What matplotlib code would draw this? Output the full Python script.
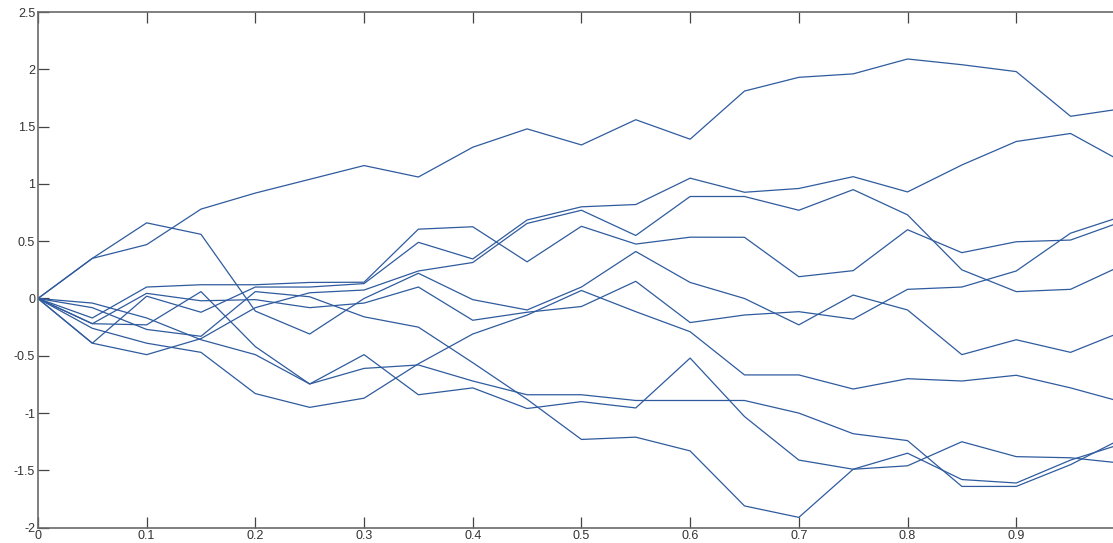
import numpy as np
import matplotlib
matplotlib.use("Agg")
import matplotlib.pyplot as plt

#Sample times, 21 steps of 0.05
t = np.round(np.arange(21) * 0.05, 2)

#Ten walk paths
walk_a = [0, 0.35, 0.47, 0.78, 0.92, 1.04, 1.16, 1.06, 1.32, 1.48, 1.34, 1.56, 1.39, 1.81, 1.93, 1.96, 2.09, 2.04, 1.98, 1.59, 1.66]
walk_b = [0, 0.35, 0.66, 0.56, -0.11, -0.31, 0.0, 0.22, -0.01, -0.10, 0.10, 0.41, 0.14, 0.0, -0.23, 0.03, -0.10, -0.49, -0.36, -0.47, -0.28]
walk_c = [0, -0.26, -0.39, -0.47, -0.83, -0.95, -0.87, -0.57, -0.31, -0.145, 0.07, -0.115, -0.29, -0.667, -0.667, -0.79, -0.70, -0.72, -0.67, -0.78, -0.91]
walk_d = [0, -0.04, -0.17, -0.36, -0.49, -0.746, -0.61, -0.58, -0.72, -0.84, -0.84, -0.89, -0.89, -0.89, -1.0, -1.18, -1.24, -1.64, -1.64, -1.45, -1.21]
walk_e = [0, -0.22, -0.23, 0.06, -0.42, -0.746, -0.49, -0.84, -0.78, -0.96, -0.90, -0.955, -0.52, -1.03, -1.41, -1.49, -1.46, -1.25, -1.38, -1.39, -1.44]
walk_f = [0, -0.08, -0.27, -0.33, 0.06, 0.015, -0.16, -0.25, -0.56, -0.88, -1.23, -1.21, -1.33, -1.81, -1.91, -1.49, -1.35, -1.58, -1.61, -1.41, -1.26]
walk_g = [0, -0.17, 0.10, 0.12, 0.12, 0.14, 0.142, 0.605, 0.626, 0.32, 0.63, 0.475, 0.535, 0.534, 0.19, 0.243, 0.60, 0.40, 0.495, 0.51, 0.68]
walk_h = [0, -0.39, 0.02, -0.12, 0.10, 0.10, 0.13, 0.49, 0.345, 0.685, 0.80, 0.82, 1.05, 0.927, 0.96, 1.063, 0.93, 1.165, 1.37, 1.44, 1.18]
walk_i = [0, -0.39, -0.49, -0.35, -0.08, 0.05, 0.074, 0.24, 0.314, 0.655, 0.77, 0.55, 0.89, 0.89, 0.77, 0.95, 0.73, 0.25, 0.06, 0.08, 0.30]
walk_j = [0, -0.22, 0.045, -0.02, -0.01, -0.08, -0.04, 0.10, -0.19, -0.12, -0.07, 0.15, -0.21, -0.144, -0.115, -0.18, 0.08, 0.10, 0.24, 0.57, 0.725]

walks = [walk_a, walk_b, walk_c, walk_d, walk_e, walk_f, walk_g, walk_h, walk_i, walk_j]

#The tick at 1 sits past the cropped right edge, so it is left out
xticks = [0, 0.1, 0.2, 0.3, 0.4, 0.5, 0.6, 0.7, 0.8, 0.9]
xlabels = ["0", "0.1", "0.2", "0.3", "0.4", "0.5", "0.6", "0.7", "0.8", "0.9"]
yticks = [-2, -1.5, -1, -0.5, 0, 0.5, 1, 1.5, 2, 2.5]
ylabels = ["-2", "-1.5", "-1", "-0.5", "0", "0.5", "1", "1.5", "2", "2.5"]

plt.rcParams["font.family"] = ["Liberation Sans", "DejaVu Sans"]

fig = plt.figure(figsize=(11.13, 5.43), dpi=100)
#Axes run past the right edge, the source screenshot is cropped there
ax = fig.add_axes([0.0341, 0.0282, 0.9766, 0.9497])

for w in walks:
    ax.plot(t, w, color="#2f5b9e", lw=0.9)

ax.set_xlim(0, 1)
ax.set_ylim(-2, 2.5)
ax.set_xticks(xticks)
ax.set_xticklabels(xlabels)
ax.set_yticks(yticks)
ax.set_yticklabels(ylabels)
ax.tick_params(direction="in", length=8, width=0.9, color="#444444",
               labelsize=9, labelcolor="#333333", top=True, right=True, pad=2)
for s in ax.spines.values():
    s.set_color("#6a6a6a")
    s.set_linewidth(1.2)

fig.savefig("out.png", dpi=100)
